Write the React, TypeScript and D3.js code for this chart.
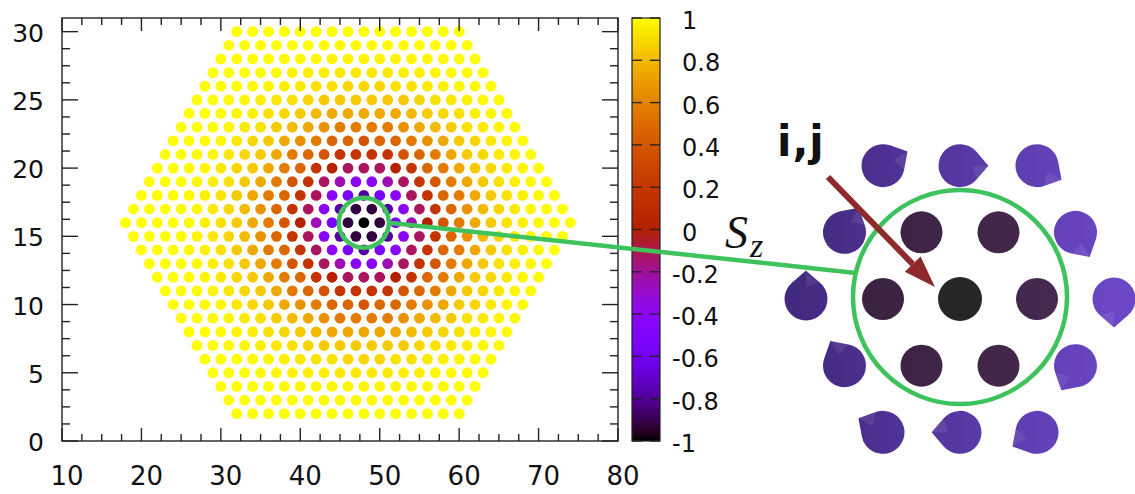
import React from 'react';
import * as d3 from 'd3';

// Hexagonal flake of sites: rows y = 2..30, the widest row (y = 16) spans x = 18..74
const ROW_Y_RANGE = [2, 30];
const MID_ROW_Y = 16;
const MID_ROW_X = [18, 74];
const SITE_STEP_X = 2;

// Lattice site at the skyrmion core
const CORE_SITE = [48, 16];

// Sz of a site, indexed by round(2 * distance to the core), distance in lattice constants
const SZ_BY_HALF_RADIUS = [
  -1.0, -0.97, -0.92, -0.78, -0.55, -0.42, -0.25, -0.12, 0.0, 0.18,
  0.38, 0.48, 0.57, 0.66, 0.74, 0.8, 0.85, 0.89, 0.92, 0.94,
  0.96, 0.975, 0.985, 0.99, 1.0,
];

const X_TICKS = [10, 20, 30, 40, 50, 60, 70, 80];
const Y_TICKS = [0, 5, 10, 15, 20, 25, 30];
const CB_TICKS = [1, 0.8, 0.6, 0.4, 0.2, 0, -0.2, -0.4, -0.6, -0.8, -1];

const X_DOMAIN = [10, 80];
const Y_DOMAIN = [0, 31];
const CB_DOMAIN = [-1, 1];

// Magnified neighbourhood of the core: radius in lattice constants
const INSET_RADIUS = 2;

const W = 1135;
const H = 494;
const FRAME = { left: 62, right: 618, top: 18, bottom: 441 };
const CBAR = { left: 632, right: 660 };
const FONT = '"DejaVu Sans", Verdana, sans-serif';
const GREEN = '#3ec25b';

// gnuplot's default pm3d palette (rgbformulae 7,5,15)
function palette(t: number): string {
  const c = Math.max(0, Math.min(1, t));
  const r = Math.sqrt(c);
  const g = c * c * c;
  const b = Math.max(0, Math.sin(2 * Math.PI * c));
  return d3.rgb(r * 255, g * 255, b * 255).formatHex();
}

function latticeDistance(dx: number, dy: number): number {
  return Math.sqrt((dx / SITE_STEP_X) ** 2 + (dy * Math.sqrt(3) / 2) ** 2);
}

function szAt(x: number, y: number): number {
  const r = latticeDistance(x - CORE_SITE[0], y - CORE_SITE[1]);
  const k = Math.min(SZ_BY_HALF_RADIUS.length - 1, Math.round(2 * r));
  return SZ_BY_HALF_RADIUS[k];
}

type Site = { x: number; y: number; sz: number };

function buildSites(): Site[] {
  const sites: Site[] = [];
  for (let y = ROW_Y_RANGE[0]; y <= ROW_Y_RANGE[1]; y++) {
    const shrink = Math.abs(y - MID_ROW_Y);
    for (let x = MID_ROW_X[0] + shrink; x <= MID_ROW_X[1] - shrink; x += SITE_STEP_X) {
      sites.push({ x, y, sz: szAt(x, y) });
    }
  }
  return sites;
}

type InsetSite = { du: number; dv: number; r: number };

function buildInsetSites(): InsetSite[] {
  const out: InsetSite[] = [];
  for (let dv = -INSET_RADIUS; dv <= INSET_RADIUS; dv++) {
    for (let dx = -2 * INSET_RADIUS; dx <= 2 * INSET_RADIUS; dx++) {
      if ((Math.abs(dx) % 2) !== (Math.abs(dv) % 2)) continue;
      const r = latticeDistance(dx, dv);
      if (r <= INSET_RADIUS + 0.01) out.push({ du: dx / SITE_STEP_X, dv, r });
    }
  }
  return out;
}

function conePath(cx: number, cy: number, r: number, theta: number): string {
  const d = 1.32 * r;
  const alpha = Math.acos(r / d);
  const ax = cx + d * Math.cos(theta);
  const ay = cy + d * Math.sin(theta);
  const p1x = cx + r * Math.cos(theta + alpha);
  const p1y = cy + r * Math.sin(theta + alpha);
  const p2x = cx + r * Math.cos(theta - alpha);
  const p2y = cy + r * Math.sin(theta - alpha);
  return `M${ax},${ay}L${p1x},${p1y}A${r},${r} 0 1 1 ${p2x},${p2y}Z`;
}

export default function App() {
  const x = d3.scaleLinear().domain(X_DOMAIN).range([FRAME.left, FRAME.right]);
  const y = d3.scaleLinear().domain(Y_DOMAIN).range([FRAME.bottom, FRAME.top]);
  const cb = d3.scaleLinear().domain(CB_DOMAIN).range([FRAME.bottom, FRAME.top]);
  const color = (sz: number) => palette((sz - CB_DOMAIN[0]) / (CB_DOMAIN[1] - CB_DOMAIN[0]));

  const sites = buildSites();
  const xMinor = d3.range(X_DOMAIN[0], X_DOMAIN[1] + 0.01, 2.5).filter((v) => !X_TICKS.includes(v));
  const yMinor = d3.range(Y_DOMAIN[0], Y_DOMAIN[1] + 0.01, 1.25).filter((v) => !Y_TICKS.includes(v));

  // magnified view
  const insetCenter = { x: 960, y: 299 };
  const insetA = 77;
  const ix = d3.scaleLinear().domain([-1, 1]).range([insetCenter.x - insetA, insetCenter.x + insetA]);
  const iy = d3.scaleLinear().domain([-1, 1]).range([insetCenter.y + insetA * Math.sqrt(3) / 2, insetCenter.y - insetA * Math.sqrt(3) / 2]);
  const insetSites = buildInsetSites();

  const bigCircle = { cx: insetCenter.x, cy: 297, r: 107 };
  const smallCircle = { cx: x(CORE_SITE[0]), cy: y(CORE_SITE[1]), r: 25 };
  const linkAngle = (13 * Math.PI) / 180;
  const linkStart = { x: smallCircle.cx + smallCircle.r, y: smallCircle.cy };
  const linkEnd = { x: bigCircle.cx - bigCircle.r * Math.cos(linkAngle), y: bigCircle.cy - bigCircle.r * Math.sin(linkAngle) };

  // arrow pointing to the core spin in the magnified view
  const arrowFrom = { x: 828, y: 177 };
  const arrowTo = { x: ix(0) - 25, y: iy(0) - 12 };
  const aAng = Math.atan2(arrowTo.y - arrowFrom.y, arrowTo.x - arrowFrom.x);
  const headLen = 32;
  const headHalf = 11;
  const hb = { x: arrowTo.x - headLen * Math.cos(aAng), y: arrowTo.y - headLen * Math.sin(aAng) };
  const perp = { x: -Math.sin(aAng), y: Math.cos(aAng) };

  const gradStops = d3.range(0, 1.0001, 0.02);

  return (
    <svg width={W} height={H} style={{ position: 'absolute', left: 0, top: 0, background: '#fff' }}>
      <defs>
        <linearGradient id="cbGrad" x1="0" y1="1" x2="0" y2="0">
          {gradStops.map((t) => (
            <stop key={t} offset={t} stopColor={palette(t)} />
          ))}
        </linearGradient>
        <linearGradient id="coneGrad" gradientUnits="userSpaceOnUse" x1={800} y1={0} x2={1115} y2={0}>
          <stop offset="0" stopColor="#43297f" />
          <stop offset="1" stopColor="#6b47c6" />
        </linearGradient>
        <linearGradient id="innerGrad" gradientUnits="userSpaceOnUse" x1={860} y1={0} x2={1060} y2={0}>
          <stop offset="0" stopColor="#3a2240" />
          <stop offset="1" stopColor="#46294f" />
        </linearGradient>
      </defs>

      {/* spin sites */}
      <g>
        {sites.map((s) => (
          <circle key={`${s.x}_${s.y}`} cx={x(s.x)} cy={y(s.y)} r={5.4} fill={color(s.sz)} />
        ))}
      </g>

      {/* frame and ticks */}
      <g stroke="#222" strokeWidth={1.4} fill="none">
        <rect x={FRAME.left} y={FRAME.top} width={FRAME.right - FRAME.left} height={FRAME.bottom - FRAME.top} />
        {X_TICKS.map((v) => (
          <g key={`xt${v}`}>
            <line x1={x(v)} x2={x(v)} y1={FRAME.bottom} y2={FRAME.bottom - 13} />
            <line x1={x(v)} x2={x(v)} y1={FRAME.top} y2={FRAME.top + 13} />
          </g>
        ))}
        {xMinor.map((v) => (
          <g key={`xm${v}`}>
            <line x1={x(v)} x2={x(v)} y1={FRAME.bottom} y2={FRAME.bottom - 7} />
            <line x1={x(v)} x2={x(v)} y1={FRAME.top} y2={FRAME.top + 7} />
          </g>
        ))}
        {Y_TICKS.map((v) => (
          <g key={`yt${v}`}>
            <line x1={FRAME.left} x2={FRAME.left + 16} y1={y(v)} y2={y(v)} />
            <line x1={FRAME.right} x2={FRAME.right - 16} y1={y(v)} y2={y(v)} />
          </g>
        ))}
        {yMinor.map((v) => (
          <g key={`ym${v}`}>
            <line x1={FRAME.left} x2={FRAME.left + 8} y1={y(v)} y2={y(v)} />
            <line x1={FRAME.right} x2={FRAME.right - 8} y1={y(v)} y2={y(v)} />
          </g>
        ))}
      </g>

      {/* tick labels */}
      <g fontFamily={FONT} fill="#111">
        {X_TICKS.map((v) => (
          <text key={`xl${v}`} x={x(v) + 5} y={485} textAnchor="middle" fontSize={26}>{v}</text>
        ))}
        {Y_TICKS.map((v) => (
          <text key={`yl${v}`} x={44} y={y(v) + 10} textAnchor="end" fontSize={25}>{v}</text>
        ))}
      </g>

      {/* colour box */}
      <rect x={CBAR.left} y={FRAME.top} width={CBAR.right - CBAR.left} height={FRAME.bottom - FRAME.top} fill="url(#cbGrad)" stroke="#222" strokeWidth={1.2} />
      <g stroke="#222" strokeWidth={1.3}>
        {CB_TICKS.map((v) => (
          <g key={`cbt${v}`}>
            <line x1={CBAR.left} x2={CBAR.left + 10} y1={cb(v)} y2={cb(v)} />
            <line x1={CBAR.right} x2={CBAR.right - 10} y1={cb(v)} y2={cb(v)} />
          </g>
        ))}
      </g>
      <g fontFamily={FONT} fontSize={24} fill="#111">
        {CB_TICKS.map((v) => (
          <text key={`cbl${v}`} x={v < 0 ? 672 : 682} y={cb(v) + 11}>{v < 0 ? `-${Math.abs(v)}` : `${v}`}</text>
        ))}
      </g>

      {/* magnified neighbourhood of the core */}
      <g>
        {insetSites.map((s) => {
          const cx = ix(s.du);
          const cy = iy(s.dv);
          if (s.r < 0.01) return <circle key="core" cx={cx} cy={cy} r={22} fill="#272627" />;
          if (s.r < 1.01) return <circle key={`n${s.du}_${s.dv}`} cx={cx} cy={cy} r={21} fill="url(#innerGrad)" />;
          const theta = Math.atan2(cy - insetCenter.y, cx - insetCenter.x) + Math.PI / 2;
          const d = conePath(cx, cy, 21.5, theta);
          const tipX = cx + 1.32 * 21.5 * Math.cos(theta);
          const tipY = cy + 1.32 * 21.5 * Math.sin(theta);
          const a1 = theta + 0.7;
          return (
            <g key={`o${s.du}_${s.dv}`}>
              <path d={d} fill="url(#coneGrad)" />
              <path
                d={`M${tipX},${tipY}L${cx + 21.5 * Math.cos(a1)},${cy + 21.5 * Math.sin(a1)}L${cx + 12 * Math.cos(theta)},${cy + 12 * Math.sin(theta)}Z`}
                fill="#ffffff"
                opacity={0.08}
              />
            </g>
          );
        })}
      </g>

      {/* link between the marked core and its magnified view */}
      <g fill="none" stroke={GREEN} strokeWidth={4.5}>
        <circle cx={smallCircle.cx} cy={smallCircle.cy} r={smallCircle.r} />
        <line x1={linkStart.x} y1={linkStart.y} x2={linkEnd.x} y2={linkEnd.y} />
        <circle cx={bigCircle.cx} cy={bigCircle.cy} r={bigCircle.r} />
      </g>

      {/* arrow */}
      <line x1={arrowFrom.x} y1={arrowFrom.y} x2={hb.x} y2={hb.y} stroke="#8e2a2c" strokeWidth={6} />
      <path
        d={`M${arrowTo.x},${arrowTo.y}L${hb.x + headHalf * perp.x},${hb.y + headHalf * perp.y}L${hb.x - headHalf * perp.x},${hb.y - headHalf * perp.y}Z`}
        fill="#8e2a2c"
      />

      <text x={777} y={156} fontFamily={FONT} fontWeight="bold" fontSize={42} fill="#111" letterSpacing={1}>i,j</text>

      <text x={725} y={248} fontFamily='"Liberation Serif", "DejaVu Serif", serif' fontStyle="italic" fontSize={46} fill="#111">S</text>
      <text x={750} y={257} fontFamily='"Liberation Serif", "DejaVu Serif", serif' fontStyle="italic" fontSize={34} fill="#111">z</text>
    </svg>
  );
}
